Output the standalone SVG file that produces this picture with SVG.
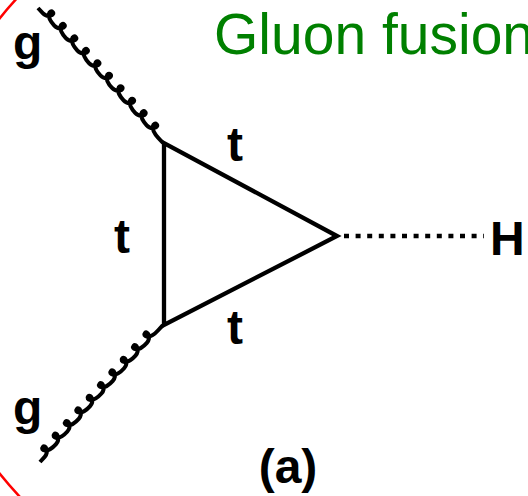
<svg xmlns="http://www.w3.org/2000/svg" width="528" height="496" viewBox="0 0 528 496">
<defs>
<style>
.lbl{font-family:"Liberation Sans",Arial,sans-serif;font-weight:bold;font-size:48px;fill:#000}
.title{font-family:"Liberation Sans",Arial,sans-serif;font-size:57px;fill:#008000}
.line{fill:none;stroke:#000;stroke-width:4.3}
.gluon{fill:none;stroke:#000;stroke-width:4;stroke-linejoin:round}
</style>
<path id="gl" d="M0 0 h7 c7 0 10 -8 6 -8 c-4 0 -3 8 11 8 c7 0 10 -8 6 -8 c-4 0 -3 8 11 8 c7 0 10 -8 6 -8 c-4 0 -3 8 11 8 c7 0 10 -8 6 -8 c-4 0 -3 8 11 8 c7 0 10 -8 6 -8 c-4 0 -3 8 11 8 c7 0 10 -8 6 -8 c-4 0 -3 8 11 8 c7 0 10 -8 6 -8 c-4 0 -3 8 11 8 c7 0 10 -8 6 -8 c-4 0 -3 8 11 8 c7 0 10 -8 6 -8 c-4 0 -3 8 11 8 c7 0 10 -8 6 -8 c-4 0 -3 8 11 8 h7"/>
</defs>
<rect width="528" height="496" fill="#fff"/>
<circle cx="285" cy="246" r="365" fill="none" stroke="#ff0000" stroke-width="2.5"/>
<text class="title" x="214" y="54">Gluon fusion</text>
<g id="connectors">
<use href="#gl" class="gluon" transform="translate(38,8) rotate(47.2)"/>
<use href="#gl" class="gluon" transform="translate(40,462) rotate(-48.1)"/>
<polygon class="line" points="164,143 164,325 337,236"/>
<path d="M344 236 H484" fill="none" stroke="#000" stroke-width="4.5" stroke-dasharray="5 6.6"/>
</g>
<g id="g-top"><text class="lbl" x="13" y="59">g</text></g>
<g id="g-bottom"><text class="lbl" x="13" y="424">g</text></g>
<g id="t-top"><text class="lbl" x="235" y="161" text-anchor="middle">t</text></g>
<g id="t-left"><text class="lbl" x="122" y="253" text-anchor="middle">t</text></g>
<g id="t-bottom"><text class="lbl" x="235" y="344" text-anchor="middle">t</text></g>
<g id="H"><text class="lbl" x="490" y="255">H</text></g>
<g id="label-a"><text class="lbl" x="288" y="483" text-anchor="middle">(a)</text></g>
</svg>
